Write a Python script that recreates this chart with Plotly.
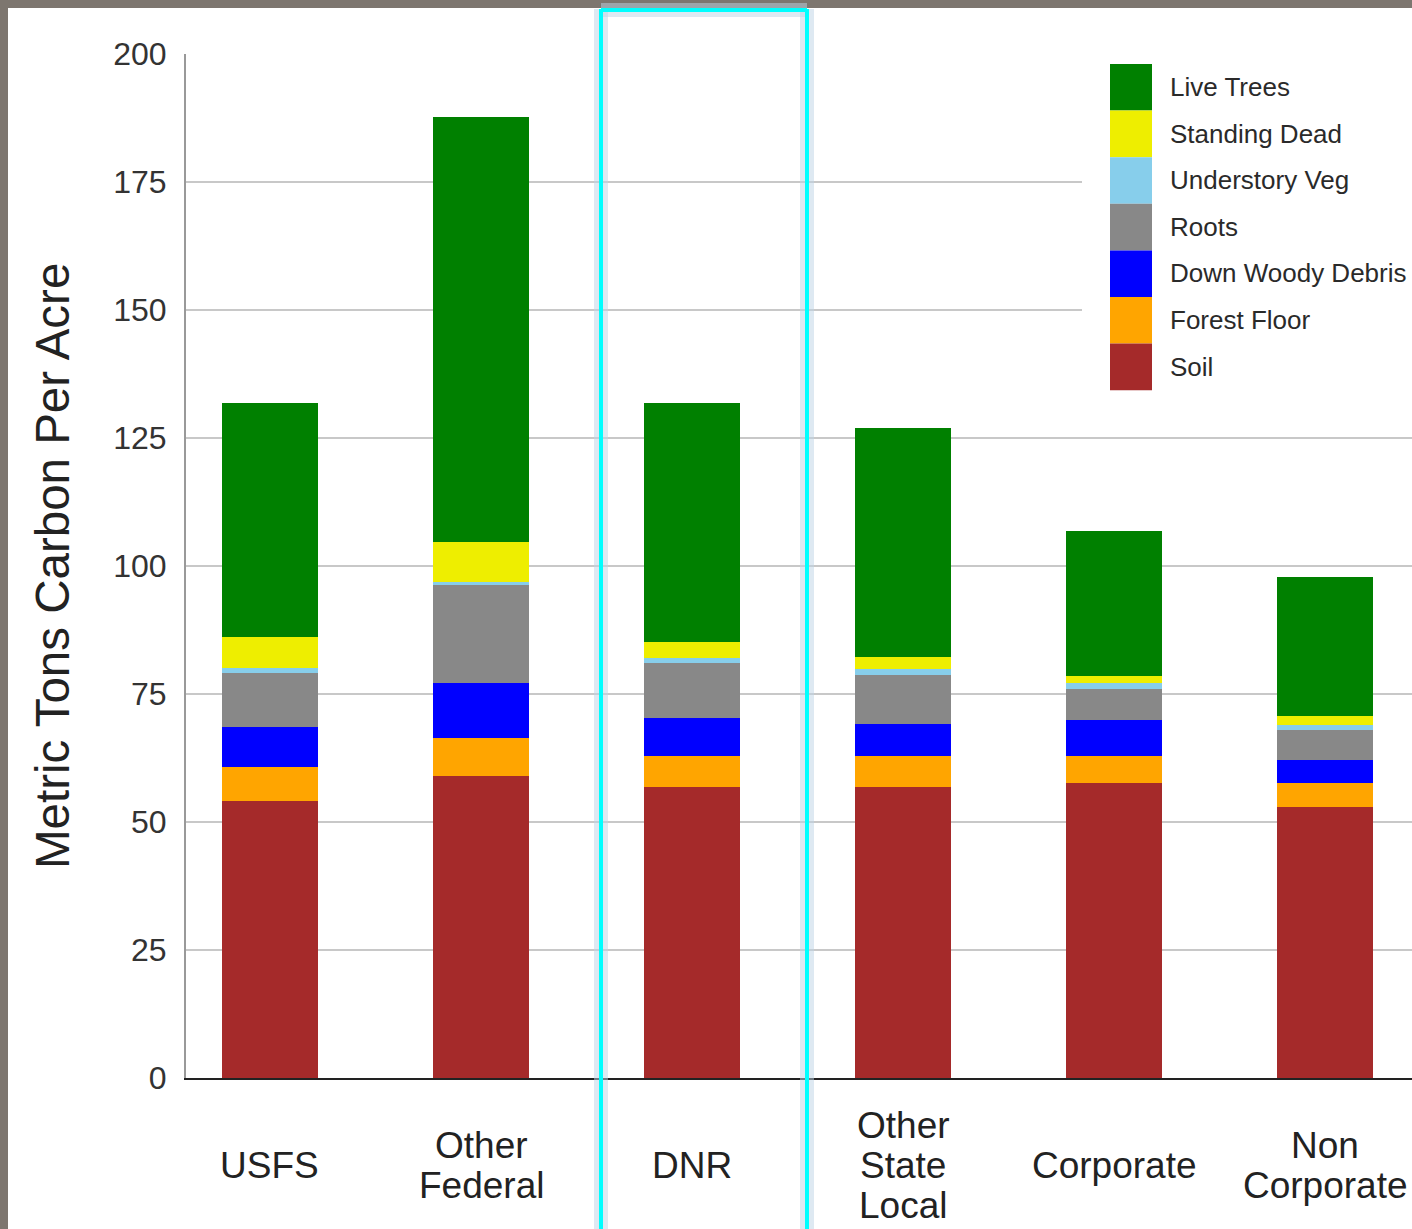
import plotly.graph_objects as go

# ---------------- data ----------------
categories = ["USFS", "Other Federal", "DNR", "Other State Local", "Corporate", "Non Corporate"]
tick_labels = ["USFS", "Other\nFederal", "DNR", "Other\nState\nLocal", "Corporate", "Non\nCorporate"]

soil = [54.2, 58.9, 56.8, 56.9, 57.7, 52.9]
forest_floor = [6.5, 7.6, 6.0, 5.9, 5.2, 4.8]
down_woody_debris = [7.9, 10.7, 7.5, 6.3, 7.0, 4.5]
roots = [10.6, 19.0, 10.7, 9.6, 6.0, 5.8]
understory_veg = [0.8, 0.7, 1.0, 1.1, 1.3, 0.9]
standing_dead = [6.1, 7.8, 3.2, 2.5, 1.3, 1.8]
live_trees = [45.8, 83.0, 46.7, 44.7, 28.4, 27.2]

series_names = ["Soil", "Forest Floor", "Down Woody Debris", "Roots",
                "Understory Veg", "Standing Dead", "Live Trees"]
series_values = [soil, forest_floor, down_woody_debris, roots,
                 understory_veg, standing_dead, live_trees]
series_colors = ["#a52a2a", "#ffa500", "#0000ff", "#888888",
                 "#87ceeb", "#eeee00", "#008000"]

y_ticks = [0, 25, 50, 75, 100, 125, 150, 175, 200]

# ---------------- layout geometry ----------------
W, H = 1412, 1229
L, R, T, B = 186, 0, 54, 151
PW, PH = W - L - R, H - T - B


def px(xp):
    return (xp - L) / PW


def py(yp):
    return (H - B - yp) / PH


FONT = "Liberation Sans, Arial, sans-serif"

fig = go.Figure()
for name, vals, col in zip(series_names, series_values, series_colors):
    fig.add_trace(go.Bar(
        x=categories, y=vals, name=name, width=0.455,
        marker=dict(color=col, line=dict(width=0)),
        showlegend=False,
    ))

shapes = []
annotations = []

# white panel over gray frame
shapes.append(dict(type="rect", xref="paper", yref="paper",
                   x0=px(8), x1=px(W + 5), y0=py(8), y1=py(H + 5),
                   fillcolor="white", line=dict(width=0), layer="below"))

# legend background (covers gridlines)
shapes.append(dict(type="rect", xref="paper", yref="paper",
                   x0=px(1082), x1=px(W + 5), y0=py(40), y1=py(405),
                   fillcolor="white", line=dict(width=0), layer="above"))

# custom legend (top-down order: reversed of stacking)
leg_names = series_names[::-1]
leg_colors = series_colors[::-1]
for i, (n, c) in enumerate(zip(leg_names, leg_colors)):
    top = 64 + i * 46.6
    shapes.append(dict(type="rect", xref="paper", yref="paper",
                       x0=px(1110), x1=px(1152), y0=py(top), y1=py(top + 46.6),
                       fillcolor=c, line=dict(width=0), layer="above"))
    annotations.append(dict(xref="paper", yref="paper", x=px(1168), y=py(top + 23),
                            text=n, showarrow=False, xanchor="left", yanchor="middle",
                            font=dict(family=FONT, size=26, color="#2a2a2a")))

# x category labels (multi-line, tight spacing)
for cat, lab in zip(categories, tick_labels):
    lines = lab.split("\n")
    n = len(lines)
    for j, ln in enumerate(lines):
        yc = 1165 + (j - (n - 1) / 2) * 40
        annotations.append(dict(xref="x", yref="paper", x=cat, y=py(yc),
                                text=ln, showarrow=False, xanchor="center", yanchor="middle",
                                font=dict(family=FONT, size=37, color="#222")))

# y-axis title
annotations.append(dict(xref="paper", yref="paper", x=px(52), y=py(566),
                        text="Metric Tons Carbon Per Acre", textangle=-90,
                        showarrow=False, xanchor="center", yanchor="middle",
                        font=dict(family=FONT, size=47.5, color="#222")))

# highlight box around DNR (glow + cyan)
for lw, col in [(14, "rgba(190,212,230,0.5)"), (4, "#00ffff")]:
    shapes.append(dict(type="line", xref="paper", yref="paper",
                       x0=px(601), x1=px(601), y0=py(9), y1=py(H + 10),
                       line=dict(color=col, width=lw), layer="above"))
    shapes.append(dict(type="line", xref="paper", yref="paper",
                       x0=px(807), x1=px(807), y0=py(9), y1=py(H + 10),
                       line=dict(color=col, width=lw), layer="above"))
    shapes.append(dict(type="line", xref="paper", yref="paper",
                       x0=px(601), x1=px(807), y0=py(10), y1=py(10),
                       line=dict(color=col, width=lw), layer="above"))

fig.update_layout(
    width=W, height=H,
    margin=dict(l=L, r=R, t=T, b=B, autoexpand=False),
    barmode="stack",
    paper_bgcolor="#7d766f",
    plot_bgcolor="rgba(0,0,0,0)",
    shapes=shapes,
    annotations=annotations,
    showlegend=False,
    xaxis=dict(type="category", range=[-0.398, 5.412], showticklabels=False,
               showgrid=False, showline=True, linecolor="#222", linewidth=2,
               zeroline=False, ticks="", fixedrange=True),
    yaxis=dict(range=[0, 200], tickvals=y_ticks, ticktext=[str(v) for v in y_ticks],
               showgrid=True, gridcolor="#c8c8c8", gridwidth=2,
               showline=True, linecolor="#999", linewidth=2,
               zeroline=False, ticks="", ticklabelstandoff=11,
               tickfont=dict(family=FONT, size=32, color="#333")),
    font=dict(family=FONT),
)

fig.write_html("out.html")
